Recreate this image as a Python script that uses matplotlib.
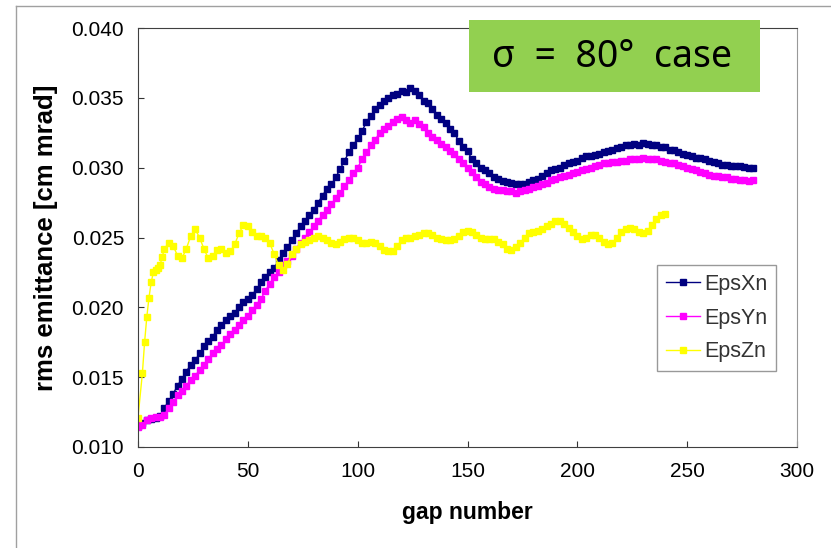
import numpy as np
import matplotlib
matplotlib.use("Agg")
import matplotlib.pyplot as plt
from matplotlib.patches import Rectangle
from matplotlib.lines import Line2D

# --- данные ---
gap_xy = list(range(0, 281, 2))

eps_x = [
    .01150, .01175, .01190, .01200, .01205, .01225, .01280, .01330, .01380, .01440,
    .01490, .01540, .01590, .01620, .01670, .01720, .01760, .01790, .01840, .01870,
    .01910, .01935, .01960, .02000, .02040, .02060, .02090, .02130, .02180, .02220,
    .02250, .02280, .02340, .02390, .02430, .02480, .02530, .02580, .02620, .02660,
    .02700, .02750, .02800, .02850, .02880, .02930, .02990, .03050, .03110, .03160,
    .03210, .03260, .03330, .03370, .03420, .03450, .03480, .03500, .03520, .03530,
    .03550, .03540, .03570, .03550, .03520, .03480, .03460, .03420, .03380, .03350,
    .03320, .03280, .03250, .03190, .03150, .03120, .03060, .03030, .03000, .02980,
    .02960, .02930, .02920, .02905, .02895, .02890, .02885, .02880, .02885, .02900,
    .02910, .02920, .02940, .02960, .02980, .02990, .03000, .03020, .03030, .03040,
    .03050, .03070, .03080, .03085, .03090, .03100, .03110, .03120, .03130, .03140,
    .03150, .03160, .03160, .03170, .03165, .03175, .03170, .03165, .03160, .03150,
    .03145, .03130, .03125, .03110, .03100, .03090, .03080, .03070, .03070, .03060,
    .03050, .03040, .03030, .03020, .03020, .03010, .03010, .03010, .03005, .03000,
    .03000,
]

eps_y = [
    .01140, .01160, .01190, .01210, .01215, .01215, .01230, .01280, .01320, .01370,
    .01400, .01440, .01480, .01510, .01550, .01590, .01630, .01670, .01700, .01730,
    .01770, .01810, .01840, .01870, .01910, .01940, .01980, .02020, .02060, .02120,
    .02170, .02220, .02250, .02300, .02330, .02370, .02420, .02460, .02500, .02540,
    .02580, .02620, .02660, .02700, .02740, .02780, .02820, .02870, .02910, .02960,
    .03000, .03060, .03110, .03160, .03200, .03250, .03280, .03300, .03330, .03350,
    .03360, .03340, .03320, .03340, .03310, .03290, .03250, .03220, .03200, .03170,
    .03150, .03120, .03100, .03060, .03030, .03000, .02970, .02930, .02900, .02880,
    .02860, .02850, .02840, .02840, .02830, .02830, .02820, .02830, .02840, .02850,
    .02860, .02870, .02880, .02890, .02910, .02920, .02930, .02940, .02950, .02960,
    .02970, .02980, .02990, .03000, .03010, .03020, .03030, .03030, .03040, .03040,
    .03050, .03050, .03060, .03060, .03060, .03070, .03065, .03060, .03060, .03050,
    .03040, .03030, .03030, .03020, .03010, .03000, .02990, .02980, .02970, .02960,
    .02950, .02940, .02940, .02930, .02930, .02920, .02920, .02910, .02910, .02905,
    .02910,
]

gap_z = [0, 2, 3, 4, 5, 6, 7, 8, 9, 10, 11, 12] + list(range(14, 241, 2))

eps_z = [
    .01210, .01530, .01750, .01930, .02070, .02180, .02250, .02270, .02280, .02300,
    .02360, .02420,
    .02460, .02440, .02370, .02350, .02420, .02510, .02560, .02500, .02420, .02350,
    .02370, .02410, .02420, .02390, .02400, .02450, .02530, .02590, .02580, .02540,
    .02510, .02510, .02500, .02460, .02380, .02300, .02270, .02310, .02380, .02420,
    .02450, .02470, .02480, .02500, .02510, .02500, .02480, .02460, .02450, .02470,
    .02490, .02500, .02500, .02480, .02460, .02460, .02470, .02460, .02440, .02410,
    .02400, .02400, .02440, .02480, .02500, .02500, .02510, .02520, .02530, .02530,
    .02520, .02500, .02490, .02480, .02480, .02490, .02510, .02540, .02550, .02540,
    .02520, .02500, .02490, .02490, .02490, .02470, .02450, .02420, .02410, .02430,
    .02460, .02500, .02530, .02540, .02550, .02560, .02580, .02600, .02620, .02620,
    .02600, .02570, .02540, .02510, .02490, .02500, .02520, .02520, .02500, .02470,
    .02450, .02460, .02500, .02540, .02560, .02570, .02560, .02540, .02530, .02550,
    .02590, .02630, .02660, .02670,
]

x_ticks = [0, 50, 100, 150, 200, 250, 300]
y_ticks = [0.010, 0.015, 0.020, 0.025, 0.030, 0.035, 0.040]

# --- рисунок ---
plt.rcParams['font.family'] = ['Liberation Sans', 'DejaVu Sans']

fig = plt.figure(figsize=(8.31, 5.48), dpi=100)
ax = fig.add_axes([138 / 831, 1 - 447 / 548, 659 / 831, 419 / 548])

ax.plot(gap_xy, eps_x, '-s', color='#000080', lw=1, ms=5, label='EpsXn')
ax.plot(gap_xy, eps_y, '-s', color='#FF00FF', lw=1, ms=5, label='EpsYn')
ax.plot(gap_z, eps_z, '-s', color='#FFFF00', lw=1, ms=5, label='EpsZn')

ax.set_xlim(0, 300)
ax.set_ylim(0.010, 0.040)
ax.set_xticks(x_ticks)
ax.set_yticks(y_ticks)
ax.set_yticklabels([f"{v:.3f}" for v in y_ticks])
ax.tick_params(direction='in', length=4, labelsize=15, colors='#333333',
               labelcolor='black')
ax.tick_params(axis='y', pad=10)
ax.tick_params(axis='x', pad=11)

for s in ['left', 'bottom', 'top']:
    ax.spines[s].set_color('#404040')
ax.spines['right'].set_color('#999999')

ax.set_xlabel("gap number", fontsize=16.5, fontweight='bold', labelpad=14)
ax.set_ylabel("rms emittance [cm mrad]", fontsize=18.5, fontweight='bold', labelpad=10)

leg = ax.legend(loc='upper left', bbox_to_anchor=(519 / 659, 1 - 237 / 419),
                fontsize=15.5, frameon=True, fancybox=False, borderpad=0.4,
                labelspacing=0.6, handlelength=1.6, handletextpad=0.2,
                borderaxespad=0, markerscale=0.75)
leg.get_frame().set_edgecolor('#808080')
leg.get_frame().set_linewidth(1)
for t in leg.get_texts():
    t.set_color('#333333')

# зелёная плашка с подписью
fig.patches.append(Rectangle((469 / 831, 1 - 92 / 548), 291 / 831, 72 / 548,
                             transform=fig.transFigure, facecolor='#92D050',
                             edgecolor='none', zorder=5))
fig.text(612 / 831, 1 - 57 / 548, "σ  =  80°  case", fontsize=27,
         family=['Noto Sans', 'DejaVu Sans'], ha='center', va='center', zorder=6)

# рамка слайда
fig.add_artist(Line2D([16 / 831, 16 / 831], [0, 1 - 6 / 548], color='#A0A0A0', lw=1))
fig.add_artist(Line2D([16 / 831, 1], [1 - 6 / 548, 1 - 6 / 548], color='#A0A0A0', lw=1))

fig.savefig("out.png", dpi=100)
